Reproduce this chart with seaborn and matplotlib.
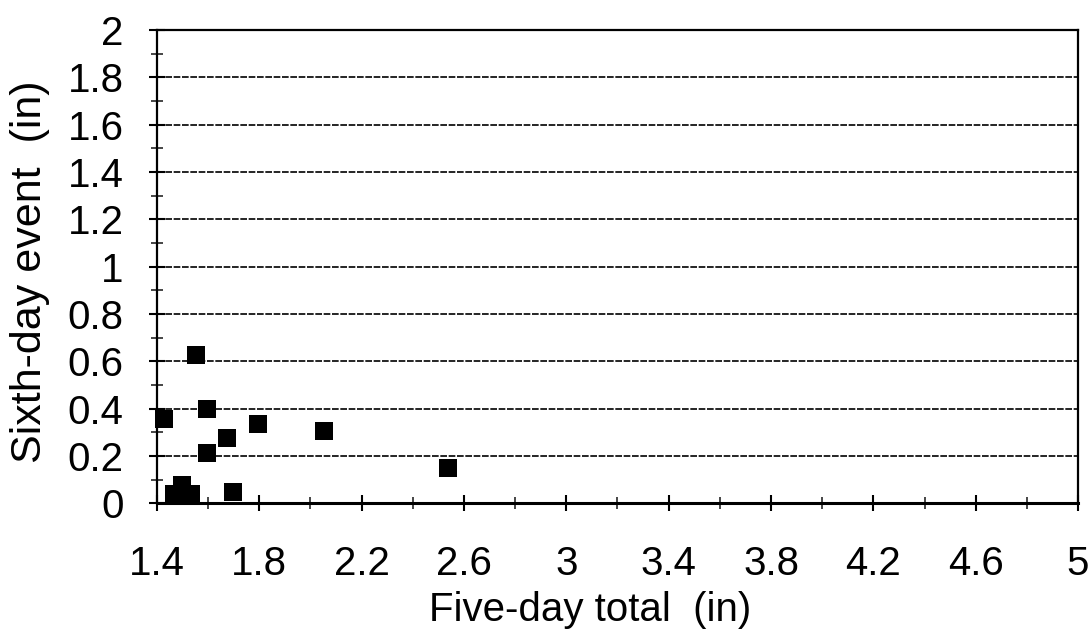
import numpy as np
import pandas as pd
import seaborn as sns
import matplotlib.pyplot as plt
from matplotlib.ticker import MultipleLocator, FuncFormatter

five_day_total = [1.553, 1.427, 1.596, 1.796, 2.051, 1.675, 1.596, 2.537, 1.498, 1.467, 1.533, 1.698]
sixth_day_event = [0.626, 0.355, 0.397, 0.334, 0.304, 0.275, 0.211, 0.148, 0.076, 0.040, 0.040, 0.046]

x_ticks = [1.4, 1.8, 2.2, 2.6, 3.0, 3.4, 3.8, 4.2, 4.6, 5.0]
y_ticks = [0, 0.2, 0.4, 0.6, 0.8, 1.0, 1.2, 1.4, 1.6, 1.8, 2.0]

sns.set_style("white")
plt.rcParams['font.family'] = ['Liberation Sans', 'DejaVu Sans']

df = pd.DataFrame({'total': five_day_total, 'event': sixth_day_event})

fig, ax = plt.subplots(figsize=(10.9, 6.37), dpi=100)
fig.subplots_adjust(left=0.144, right=0.989, top=0.953, bottom=0.21)

sns.scatterplot(data=df, x='total', y='event', marker='s', color='black',
                s=150, edgecolor='black', linewidth=0, ax=ax, zorder=3, clip_on=False)

def fmt(v, pos):
    return ('%g' % round(v, 2))

ax.set_xlim(1.4, 5.0)
ax.set_ylim(0, 2.0)
ax.set_xticks(x_ticks)
ax.set_yticks(y_ticks)
ax.xaxis.set_minor_locator(MultipleLocator(0.2))
ax.yaxis.set_minor_locator(MultipleLocator(0.1))
ax.xaxis.set_major_formatter(FuncFormatter(fmt))
ax.yaxis.set_major_formatter(FuncFormatter(fmt))

ax.yaxis.grid(True, which='major', color='black', linestyle=(0, (4, 1)), linewidth=1.2)
ax.set_axisbelow(True)

ax.tick_params(axis='both', which='both', bottom=True, left=True, top=False, right=False)
ax.tick_params(axis='both', which='major', direction='inout', length=12, width=1.5,
               colors='black')
ax.tick_params(axis='both', which='minor', direction='inout', length=8, width=1.2)
ax.tick_params(axis='x', which='major', pad=24, labelsize=29)
ax.tick_params(axis='y', which='major', pad=18, labelsize=29)

for side in ['left', 'right', 'top', 'bottom']:
    ax.spines[side].set_visible(True)
    ax.spines[side].set_color('black')
    ax.spines[side].set_linewidth(1.6)
ax.spines['bottom'].set_linewidth(2.2)

ax.set_xlabel('Five-day total  (in)', fontsize=29, color='black')
ax.set_ylabel('Sixth-day event  (in)', fontsize=31, color='black')
ax.xaxis.set_label_coords(0.47, -0.185)
ax.yaxis.set_label_coords(-0.116, 0.49)

fig.savefig('out.png', dpi=100)
